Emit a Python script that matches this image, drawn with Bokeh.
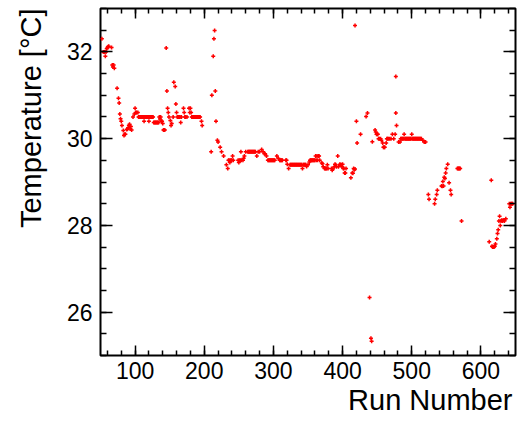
from bokeh.plotting import figure
from bokeh.models import FixedTicker, LinearAxis, Range1d, Title, CustomLabelingPolicy
from bokeh.embed import file_html
from bokeh.resources import INLINE

# ---- data ----
runs_a = [52, 54, 55, 56, 57, 58, 59, 60, 61, 62, 66, 67, 68, 69, 70,
          74, 76, 77, 78, 79, 80, 81, 83, 84, 85, 86, 88, 89, 90, 91, 92, 93, 94, 95,
          97, 99, 100, 101, 102, 104,
          105, 106, 107, 108, 109, 110, 111, 112, 113, 114, 115, 116, 117, 118, 119, 120,
          121, 122, 123, 124, 125, 126,
          127, 128, 129, 130, 131, 132, 133, 134, 135, 136, 137, 138, 139, 140, 141, 142, 143,
          145, 146, 147, 148, 149, 151, 152, 153, 155, 156, 158, 159, 160, 161, 163, 164, 165,
          166, 167, 170, 171, 172, 173, 175, 178, 179, 180, 181,
          182, 183, 184, 185, 186, 187, 188, 189, 190, 191, 192, 193, 194, 196, 197]
temp_a = [32.30, 32.00, 32.00, 32.00, 31.90, 32.00, 32.07, 32.10, 32.12, 32.13, 32.10,
          31.70, 31.65, 31.70, 31.62,
          31.16, 30.93, 30.82, 30.57, 30.46, 30.40, 30.30, 30.19, 30.07, 30.10, 30.10,
          30.21, 30.22, 30.25, 30.30, 30.33, 30.22, 30.28, 30.20,
          30.50, 30.57, 30.70, 30.60, 30.60, 30.60,
          30.50, 30.50, 30.50, 30.50, 30.50, 30.50, 30.50, 30.50, 30.40, 30.50, 30.50, 30.50,
          30.50, 30.50, 30.50, 30.40, 30.50, 30.50, 30.50, 30.50, 30.50, 30.50,
          30.37, 30.37, 30.37, 30.37, 30.37, 30.37, 30.37, 30.37, 30.50, 30.45, 30.50, 30.40,
          30.40, 30.35, 30.20, 30.20, 30.20,
          32.09, 31.10, 30.70, 30.60, 30.50, 30.42, 30.30, 30.35, 30.50, 31.30, 31.20, 30.80,
          30.60, 30.50, 30.50, 30.50, 30.50,
          30.37, 30.50, 30.70, 30.60, 30.50, 30.50, 30.50, 30.70, 30.60, 30.70, 30.60,
          30.50, 30.50, 30.50, 30.50, 30.50, 30.50, 30.50, 30.50, 30.50, 30.50, 30.50, 30.50,
          30.50, 30.40, 30.30]

runs_b = [210, 211, 213, 214, 215, 216, 217, 219, 220, 223, 225, 228, 232, 234,
          235, 236, 237, 238, 239, 240, 241, 242,
          249, 250, 251, 252, 253, 254, 256, 257, 258, 260,
          263, 264, 265, 266, 267, 268, 269, 270, 271, 272, 273, 274,
          276, 278, 280, 283, 285, 287, 288, 290,
          292, 293, 294, 295, 296, 297, 298, 299, 300, 301, 302,
          305, 307, 309, 310, 311, 312, 313, 318, 319, 320, 322,
          324, 325, 326, 327, 328, 329, 330, 331, 332, 333, 334, 335, 336, 337, 338, 339, 340, 341,
          342, 343, 344, 345, 346, 347, 348, 350, 352,
          353, 354, 355, 356, 357, 358, 359, 360, 361, 362, 363, 364, 365, 366, 367,
          370, 371, 372, 374, 375, 376, 377, 378, 379,
          384, 385, 386, 388, 389, 390, 391, 393, 394, 396, 397, 398, 399, 400, 401, 402,
          403, 404, 405, 412, 414, 415, 416, 417, 418]
temp_b = [29.70, 31.00, 31.90, 32.30, 32.49, 31.10, 30.40, 29.96, 29.92, 29.80, 29.70,
          29.60, 29.40, 29.31,
          29.50, 29.50, 29.45, 29.50, 29.50, 29.50, 29.60, 29.50,
          29.50, 29.45, 29.50, 29.50, 29.70, 29.50, 29.50, 29.55, 29.60, 29.70,
          29.70, 29.70, 29.70, 29.70, 29.70, 29.70, 29.70, 29.70, 29.70, 29.70, 29.70, 29.70,
          29.60, 29.70, 29.70, 29.75, 29.70, 29.65, 29.65, 29.60,
          29.50, 29.50, 29.50, 29.50, 29.50, 29.50, 29.50, 29.50, 29.50, 29.50, 29.50,
          29.60, 29.55, 29.50, 29.50, 29.50, 29.50, 29.50, 29.50, 29.50, 29.41, 29.31,
          29.40, 29.40, 29.40, 29.40, 29.40, 29.40, 29.40, 29.40, 29.40, 29.40, 29.40, 29.40,
          29.40, 29.40, 29.40, 29.40, 29.40, 29.40,
          29.31, 29.40, 29.40, 29.40, 29.40, 29.40, 29.36, 29.40, 29.46,
          29.50, 29.50, 29.50, 29.50, 29.50, 29.50, 29.50, 29.50, 29.60, 29.50, 29.60, 29.50,
          29.60, 29.60, 29.50,
          29.44, 29.42, 29.35, 29.31, 29.31, 29.31, 29.31, 29.40, 29.31,
          29.31, 29.27, 29.30, 29.35, 29.41, 29.40, 29.35, 29.60, 29.35, 29.41, 29.40, 29.40,
          29.35, 29.41, 29.31, 29.31, 29.21, 29.21, 29.31, 29.10, 29.21, 29.20, 29.31, 29.28,
          29.30]

runs_c = [418, 420, 421, 426, 434, 436, 439, 441, 442,
          443, 447, 448, 449, 450, 451, 452, 453, 455, 456, 458, 459, 460, 461, 463,
          464, 465, 466, 468, 470, 472, 474, 476, 477, 477, 478, 481, 483,
          484, 485, 486, 487, 488, 489, 490, 491, 492, 493, 494, 495, 496, 497, 498, 499,
          500, 501, 502, 503, 504, 505, 506, 507, 508, 509, 510, 511, 512, 513, 514,
          516, 518, 520]
temp_c = [32.61, 30.40, 29.90, 30.10, 30.51, 30.59, 26.34, 25.40, 25.33,
          29.93, 30.20, 30.15, 30.10, 30.10, 30.10, 30.00, 30.00, 30.00, 29.96, 29.90, 29.80,
          29.80, 29.80, 29.90,
          30.00, 30.00, 30.00, 30.00, 30.00, 30.10, 30.00, 30.10, 30.59, 31.43, 30.30, 29.92,
          29.92,
          30.00, 30.00, 30.00, 30.00, 30.00, 30.10, 30.00, 30.00, 30.00, 30.00, 30.00, 30.00,
          30.00, 30.00, 30.00, 30.00,
          30.10, 30.00, 30.00, 30.00, 30.00, 30.00, 30.00, 30.00, 30.00, 30.00, 30.00, 30.00,
          30.00, 30.00, 30.00,
          29.96, 29.92, 29.92]

runs_d = [524, 525, 533, 534, 536, 537, 543, 544, 545, 546, 547, 548, 549, 550, 552,
          554, 556, 557, 566, 567, 568, 569, 570, 572,
          612, 615, 616, 617, 618, 619, 620, 621, 623, 624, 625, 626, 627, 628, 629, 630,
          631, 632, 633, 634, 636, 641, 642, 643, 644, 645, 646]
temp_d = [28.71, 28.60, 28.50, 28.60, 28.71, 28.81, 28.91, 28.90, 29.01, 28.91, 29.11,
          29.08, 29.21, 29.31, 29.41, 28.98, 28.81, 28.71, 29.31, 29.31, 29.31, 29.31, 29.31,
          28.10,
          27.62, 29.04, 27.52, 27.50, 27.50, 27.50, 27.52, 27.57, 27.69, 27.81, 27.90, 28.10,
          28.21, 28.00, 28.10, 28.12, 28.10, 28.12, 28.12, 28.10, 28.15, 28.50, 28.42, 28.50,
          28.50, 28.50, 28.50]

x_major = [100, 200, 300, 400, 500, 600]
y_major = [26, 28, 30, 32]
x_title = "Run Number"
y_title = "Temperature [°C]"

runs = runs_a + runs_b + runs_c + runs_d
temps = temp_a + temp_b + temp_c + temp_d

FONT = "Liberation Sans"

p = figure(width=517, height=421, output_backend="svg", toolbar_location=None,
           x_range=Range1d(50, 650), y_range=Range1d(25, 33),
           x_axis_location=None, y_axis_location=None,
           min_border_left=100, min_border_right=2, min_border_top=8, min_border_bottom=66)
p.background_fill_color = "white"
p.border_fill_color = "white"
p.outline_line_color = "black"
p.outline_line_width = 2
p.xgrid.visible = False
p.ygrid.visible = False

xt = FixedTicker(ticks=x_major, minor_ticks=list(range(60, 650, 20)))
yt = FixedTicker(ticks=y_major, minor_ticks=[25 + 0.5 * i for i in range(17)])

no_labels = CustomLabelingPolicy(code="""
const n = indices.size
for (let i = 0; i < n; i++) { indices.unset(i) }
return indices
""")

def style(ax, tick_len, show_labels):
    ax.axis_line_color = None
    ax.major_tick_in = tick_len
    ax.major_tick_out = 0
    ax.minor_tick_in = tick_len // 2
    ax.minor_tick_out = 0
    ax.major_tick_line_color = "black"
    ax.minor_tick_line_color = "black"
    ax.major_tick_line_width = 1.5
    ax.minor_tick_line_width = 1.5
    ax.major_label_text_font = FONT
    ax.major_label_text_color = "black"
    if show_labels:
        ax.major_label_text_font_size = "23px"
    else:
        ax.major_label_text_font_size = "0px"
        ax.major_label_policy = no_labels
        ax.major_label_standoff = 0

bx = LinearAxis(ticker=xt)
style(bx, 10, True)
bx.major_label_standoff = 6
p.add_layout(bx, "below")
tx = LinearAxis(ticker=xt)
style(tx, 10, False)
p.add_layout(tx, "above")
ly = LinearAxis(ticker=yt)
style(ly, 12, True)
ly.major_label_standoff = 8
p.add_layout(ly, "left")
ry = LinearAxis(ticker=yt)
style(ry, 12, False)
p.add_layout(ry, "right")

p.scatter(runs, temps, marker="cross", size=4, line_color="red", line_width=1.5)

p.add_layout(Title(text=x_title, align="right", text_font=FONT, text_font_size="29px",
                   text_font_style="normal", text_color="black", standoff=1, offset=3),
             "below")
p.add_layout(Title(text=y_title, align="right", vertical_align="top", text_font=FONT,
                   text_font_size="29px", text_font_style="normal", text_color="black",
                   standoff=29, offset=0),
             "left")

open("out.html", "w").write(file_html(p, INLINE))
